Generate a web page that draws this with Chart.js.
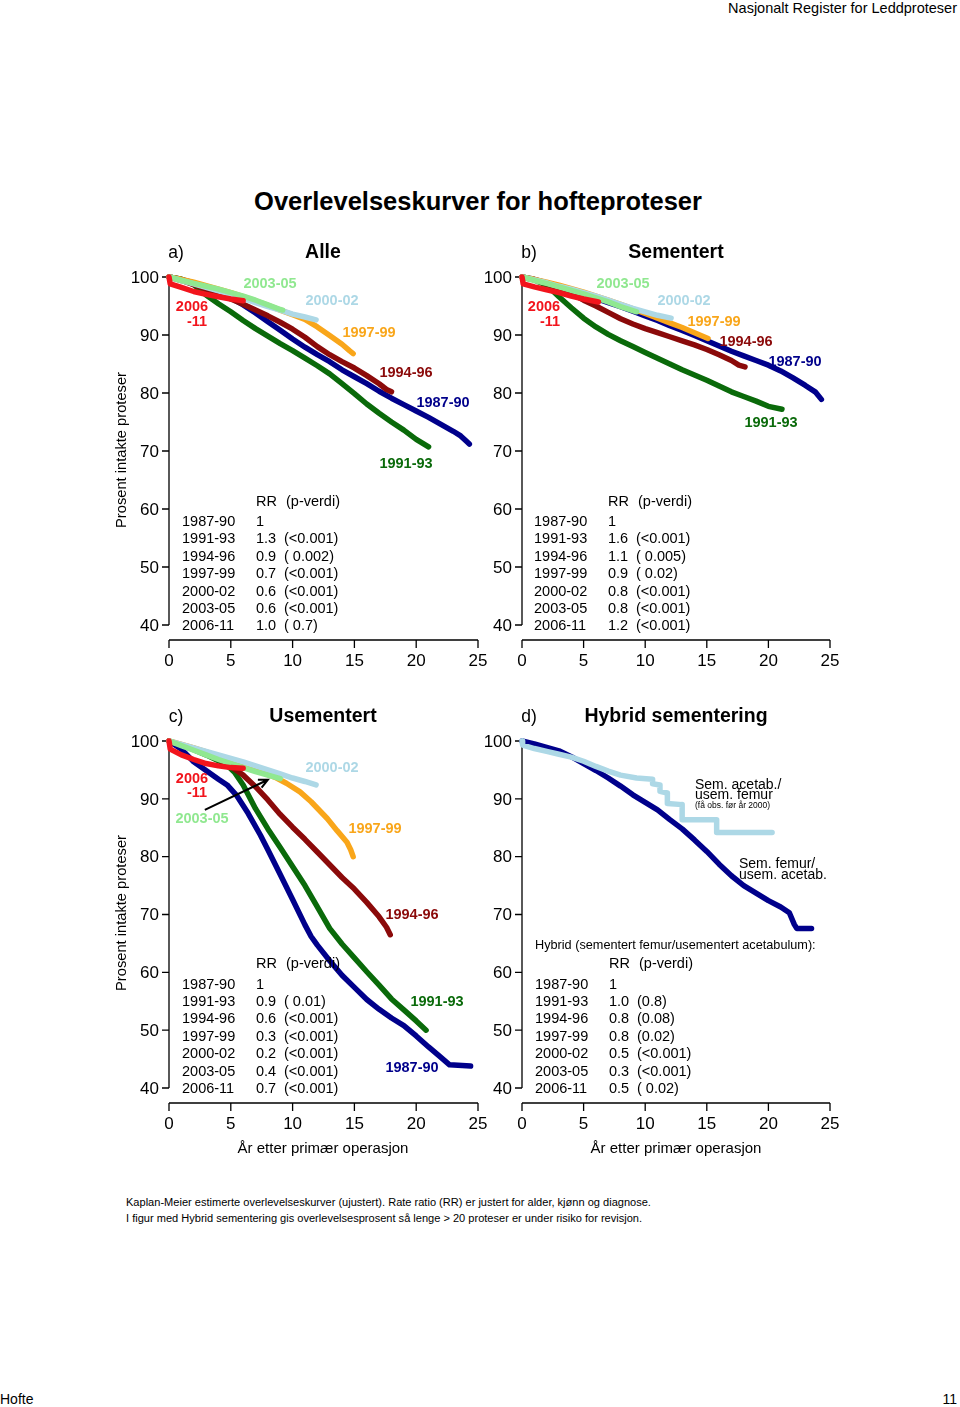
<!DOCTYPE html>
<html>
<head>
<meta charset="utf-8">
<script src="https://cdn.jsdelivr.net/npm/chart.js@4.4.1/dist/chart.umd.min.js"></script>
<style>
  body {
    margin: 0;
    width: 960px;
    height: 1407px;
    position: relative;
    overflow: hidden;
    background: #fff;
    color: #000;
    font-family: "Liberation Sans", Arial, Helvetica, sans-serif;
  }
  canvas { position: absolute; }
  .t { position: absolute; white-space: pre; line-height: 1; transform: translateY(-50%); }
  .t.c { transform: translate(-50%, -50%); }
  .t.r { transform: translate(-100%, -50%); }
  .t.rot { transform: translate(-50%, -50%) rotate(-90deg); }
</style>
</head>
<body>
<script>
// Axes
const yTicks = [40, 50, 60, 70, 80, 90, 100];
const xTicks = [0, 5, 10, 15, 20, 25];

// RR tables
const periods = ["1987-90", "1991-93", "1994-96", "1997-99", "2000-02", "2003-05", "2006-11"];
const rrAlle = ["1", "1.3", "0.9", "0.7", "0.6", "0.6", "1.0"];
const pAlle = ["", "(<0.001)", "( 0.002)", "(<0.001)", "(<0.001)", "(<0.001)", "( 0.7)"];
const rrSem = ["1", "1.6", "1.1", "0.9", "0.8", "0.8", "1.2"];
const pSem = ["", "(<0.001)", "( 0.005)", "( 0.02)", "(<0.001)", "(<0.001)", "(<0.001)"];
const rrUsem = ["1", "0.9", "0.6", "0.3", "0.2", "0.4", "0.7"];
const pUsem = ["", "( 0.01)", "(<0.001)", "(<0.001)", "(<0.001)", "(<0.001)", "(<0.001)"];
const rrHyb = ["1", "1.0", "0.8", "0.8", "0.5", "0.3", "0.5"];
const pHyb = ["", "(0.8)", "(0.08)", "(0.02)", "(<0.001)", "(<0.001)", "( 0.02)"];

// a) Alle  [years, percent]
const alle8790 = [[0,100],[1,99.6],[2,99.0],[3,98.3],[4,97.5],[5,96.4],[6,95.2],[7,93.8],[8,92.3],[9,90.8],[10,89.3],[11,87.9],[12,86.6],[13,85.4],[14,84.0],[15,82.8],[16,81.6],[17,80.3],[18,79.1],[19,78.0],[20,76.9],[21,75.8],[22,74.6],[23,73.4],[23.6,72.6],[24,71.8],[24.3,71.2]];
const alle9193 = [[0,100],[1,99.6],[2,98.7],[3,96.9],[4,95.4],[5,94.0],[6,92.5],[7,91.1],[8,89.8],[9,88.5],[10,87.3],[11,86.0],[12,84.7],[13,83.3],[14,81.6],[15,79.9],[16,78.1],[17,76.5],[18,75.0],[19,73.6],[20,72.0],[21,70.7]];
const alle9496 = [[0,100],[1,99.4],[2,98.7],[3,97.9],[4,97.1],[5,96.2],[6,95.3],[7,94.3],[8,93.3],[9,92.2],[10,91.0],[11,89.6],[12,88.0],[13,86.6],[14,85.4],[15,84.3],[16,83.0],[17,81.6],[17.6,80.6],[18,80.2]];
const alle9799 = [[0,100],[1,99.6],[2,99.1],[3,98.5],[4,97.9],[5,97.3],[6,96.6],[7,95.9],[8,95.1],[9,94.3],[10,93.5],[11,92.7],[12,91.4],[13,89.9],[14,88.4],[14.6,87.3],[14.9,86.8]];
const alle0002 = [[0,100],[1,99.4],[2,98.8],[3,98.2],[4,97.6],[5,97.0],[6,96.3],[7,95.6],[8,94.9],[9,94.3],[10,93.6],[11,93.1],[11.9,92.6]];
const alle0305 = [[0,100],[1,99.4],[2,98.9],[3,98.4],[4,97.9],[5,97.3],[6,96.7],[7,96.0],[8,95.2],[9,94.4],[9.2,94.3]];
const alle0611 = [[0,100],[0.1,98.8],[1,98.2],[2,97.5],[3,97.0],[4,96.6],[5,96.2],[6,95.9]];

// b) Sementert
const sem8790 = [[0,100],[1,99.6],[2,99.0],[3,98.3],[4,97.7],[5,97.0],[6,96.3],[7,95.6],[8,94.9],[9,94.1],[10,93.3],[11,92.5],[12,91.6],[13,90.8],[14,89.9],[15,89.0],[16,88.1],[17,87.2],[18,86.4],[19,85.6],[20,84.8],[21,83.8],[22,82.6],[23,81.3],[23.8,80.2],[24.3,78.9]];
const sem9193 = [[0,100],[1,99.5],[2,98.6],[3,96.6],[4,94.7],[5,92.9],[6,91.4],[7,90.1],[8,89.0],[9,88.0],[10,87.0],[11,86.0],[12,85.0],[13,84.0],[14,83.1],[15,82.2],[16,81.2],[17,80.2],[18,79.4],[19,78.6],[20,77.7],[21.1,77.2]];
const sem9496 = [[0,100],[1,99.5],[2,98.9],[3,98.1],[4,97.2],[5,96.0],[6,95.0],[7,93.9],[8,92.8],[9,91.9],[10,91.1],[11,90.4],[12,89.7],[13,89.0],[14,88.3],[15,87.5],[16,86.6],[17,85.6],[17.6,84.8],[18.1,84.5]];
const sem9799 = [[0,100],[1,99.6],[2,99.1],[3,98.6],[4,98.0],[5,97.4],[6,96.7],[7,96.0],[8,95.3],[9,94.5],[10,93.7],[11,92.9],[12,92.1],[13,91.3],[14,90.4],[15.1,89.4]];
const sem0002 = [[0,100],[1,99.5],[2,99.0],[3,98.4],[4,97.9],[5,97.3],[6,96.7],[7,96.0],[8,95.3],[9,94.6],[10,94.0],[11,93.4],[12.1,92.9]];
const sem0305 = [[0,100],[1,99.4],[2,98.9],[3,98.3],[4,97.7],[5,97.1],[6,96.4],[7,95.7],[8,94.9],[9.3,94.0]];
const sem0611 = [[0,100],[0.1,98.8],[1,98.3],[2,97.8],[3,97.3],[4,96.7],[5,96.2],[6.2,95.7]];

// c) Usementert
const usem8790 = [[0,100],[1,98.6],[2,96.4],[3,94.9],[4,93.4],[4.7,92.4],[5.5,90.5],[6.4,87.5],[7.4,83.7],[8,81.2],[9,76.9],[10,72.6],[11,68.2],[11.5,66.2],[12,64.7],[13,62.0],[14,59.5],[15,57.4],[16,55.3],[17,53.6],[18,52.1],[19,50.8],[20,49.0],[21,47.1],[22,45.3],[22.7,44.0],[24.4,43.8]];
const usem9193 = [[0,100],[1,99.3],[2,98.5],[3,97.6],[4,96.6],[4.7,95.8],[5.3,94.6],[6,92.4],[7,88.3],[8,84.8],[9,81.6],[10,78.3],[11,75.0],[12,71.3],[13,67.6],[14,64.9],[15,62.5],[16,60.1],[17,57.8],[18,55.4],[19,53.5],[20,51.6],[20.8,50.0]];
const usem9496 = [[0,100],[1,99.3],[2,98.6],[3,97.8],[4,96.9],[5,95.6],[6,94.1],[7,92.1],[8,89.8],[9,87.3],[10,85.1],[11,83.0],[12,80.8],[13,78.6],[14,76.4],[15,74.4],[16,72.1],[17,69.6],[17.6,67.8],[17.9,66.5]];
const usem9799 = [[0,100],[1,99.4],[2,98.8],[3,98.1],[4,97.4],[5,96.6],[6,95.8],[7,95.0],[8,94.2],[8.7,93.6],[9.5,92.7],[10.6,91.2],[11.5,89.5],[12.8,86.6],[13.6,84.5],[14.4,82.5],[14.7,81.2],[14.9,80.0]];
const usem0002 = [[0,100],[1,99.4],[2,98.8],[3,98.2],[4,97.6],[5,97.0],[6,96.4],[7,95.7],[8,95.0],[9,94.3],[10,93.6],[11,93.0],[11.9,92.4]];
const usem0305 = [[0,100],[1,99.2],[2,98.4],[3,97.6],[4,96.8],[5,96.1],[6,95.4],[7,94.7],[8,94.1],[9,93.5]];
const usem0611 = [[0,100],[0.1,98.6],[1,97.6],[2,96.8],[3,96.1],[4,95.7],[5,95.4],[6,95.3]];

// d) Hybrid sementering
const hybFemur = [[0,100],[1,99.5],[2,98.9],[3,98.3],[4,97.3],[5,96.1],[6,94.9],[7,93.6],[8,92.2],[9,90.7],[10,89.4],[11,88.1],[12,86.4],[13,84.8],[14,82.9],[15,80.9],[16,78.7],[17,76.7],[18,75.0],[19,73.7],[20,72.4],[21,71.3],[21.7,70.3],[22.1,68.3],[22.3,67.6],[23.5,67.6]];
const hybAcetab = [[0,100],[0.05,99.3],[1,98.7],[2,98.2],[3,97.7],[4,97.2],[5,96.5],[6,95.6],[7,94.8],[8,94.1],[9.3,93.6],[10.6,93.4],[10.6,92.6],[11.2,92.4],[11.2,91.3],[11.8,91.0],[11.8,89.2],[13.0,89.0],[13.0,86.4],[15.8,86.4],[15.8,84.2],[20.3,84.2]];

const col = {
  navy: "#00008b",
  green: "#0a6a0a",
  darkred: "#8b0a0a",
  orange: "#f9a61a",
  lightblue: "#add8e6",
  lightgreen: "#90e890",
  red: "#f2141c",
};

const FONT = '"Liberation Sans", Arial, Helvetica, sans-serif';

function addText(txt, x, y, o) {
  o = o || {};
  const d = document.createElement("div");
  d.className = "t " + (o.align || "");
  d.textContent = txt;
  d.style.left = x + "px";
  d.style.top = y + "px";
  d.style.fontSize = (o.size || 14.5) + "px";
  if (o.color) d.style.color = o.color;
  if (o.bold) d.style.fontWeight = "bold";
  document.body.appendChild(d);
  return d;
}

// R-style axes drawn from the chart's own scales
const rAxes = {
  id: "rAxes",
  beforeDatasetsDraw(chart) {
    const ctx = chart.ctx, sx = chart.scales.x, sy = chart.scales.y, a = chart.chartArea;
    ctx.save();
    ctx.strokeStyle = "#000";
    ctx.fillStyle = "#000";
    ctx.lineWidth = 1.3;
    ctx.font = "17px " + FONT;
    // y axis
    const y0 = sy.getPixelForValue(yTicks[0]), y1 = sy.getPixelForValue(yTicks[yTicks.length - 1]);
    ctx.beginPath();
    ctx.moveTo(a.left, y0);
    ctx.lineTo(a.left, y1);
    yTicks.forEach((v) => {
      const py = sy.getPixelForValue(v);
      ctx.moveTo(a.left - 7, py);
      ctx.lineTo(a.left, py);
    });
    ctx.stroke();
    ctx.textAlign = "right";
    ctx.textBaseline = "middle";
    yTicks.forEach((v) => ctx.fillText(String(v), a.left - 10, sy.getPixelForValue(v) + 1));
    // x axis, detached below the plot
    const ax = a.bottom + 15;
    ctx.beginPath();
    ctx.moveTo(sx.getPixelForValue(xTicks[0]), ax);
    ctx.lineTo(sx.getPixelForValue(xTicks[xTicks.length - 1]), ax);
    xTicks.forEach((v) => {
      const px = sx.getPixelForValue(v);
      ctx.moveTo(px, ax);
      ctx.lineTo(px, ax + 8);
    });
    ctx.stroke();
    ctx.textAlign = "center";
    xTicks.forEach((v) => ctx.fillText(String(v), sx.getPixelForValue(v), ax + 21));
    ctx.restore();
  },
  afterDatasetsDraw(chart, args, opts) {
    if (!opts || !opts.arrow) return;
    const ctx = chart.ctx, sx = chart.scales.x, sy = chart.scales.y;
    const [f, t] = opts.arrow;
    const x0 = sx.getPixelForValue(f[0]), y0 = sy.getPixelForValue(f[1]);
    const x1 = sx.getPixelForValue(t[0]), y1 = sy.getPixelForValue(t[1]);
    const ang = Math.atan2(y1 - y0, x1 - x0);
    ctx.save();
    ctx.strokeStyle = "#000";
    ctx.lineWidth = 2;
    ctx.beginPath();
    ctx.moveTo(x0, y0);
    ctx.lineTo(x1, y1);
    ctx.moveTo(x1 - 10 * Math.cos(ang - 0.45), y1 - 10 * Math.sin(ang - 0.45));
    ctx.lineTo(x1, y1);
    ctx.lineTo(x1 - 10 * Math.cos(ang + 0.45), y1 - 10 * Math.sin(ang + 0.45));
    ctx.stroke();
    ctx.restore();
  },
};

const periodSeries = (s) => [
  { data: s[0], color: col.navy },
  { data: s[1], color: col.green },
  { data: s[2], color: col.darkred },
  { data: s[3], color: col.orange },
  { data: s[4], color: col.lightblue },
  { data: s[5], color: col.lightgreen },
  { data: s[6], color: col.red },
];

const panels = [
  {
    left: 169, top: 277, w: 309, h: 348,
    tag: "a)", title: "Alle",
    series: periodSeries([alle8790, alle9193, alle9496, alle9799, alle0002, alle0305, alle0611]),
    labels: [
      ["2003-05", 270, 283, col.lightgreen], ["2000-02", 332, 300, col.lightblue],
      ["1997-99", 369, 332, col.orange], ["1994-96", 406, 372, col.darkred],
      ["1987-90", 443, 402, col.navy], ["1991-93", 406, 463, col.green],
      ["2006", 192, 306, col.red], ["-11", 197, 321, col.red],
    ],
    table: { x: 182, rr: rrAlle, p: pAlle, y0: 521 },
  },
  {
    left: 522, top: 277, w: 308, h: 348,
    tag: "b)", title: "Sementert",
    series: periodSeries([sem8790, sem9193, sem9496, sem9799, sem0002, sem0305, sem0611]),
    labels: [
      ["2003-05", 623, 283, col.lightgreen], ["2000-02", 684, 300, col.lightblue],
      ["1997-99", 714, 321, col.orange], ["1994-96", 746, 341, col.darkred],
      ["1987-90", 795, 361, col.navy], ["1991-93", 771, 422, col.green],
      ["2006", 544, 306, col.red], ["-11", 550, 321, col.red],
    ],
    table: { x: 534, rr: rrSem, p: pSem, y0: 521 },
  },
  {
    left: 169, top: 741, w: 309, h: 347,
    tag: "c)", title: "Usementert",
    series: periodSeries([usem8790, usem9193, usem9496, usem9799, usem0002, usem0305, usem0611]),
    labels: [
      ["2000-02", 332, 767, col.lightblue], ["1997-99", 375, 828, col.orange],
      ["1994-96", 412, 914, col.darkred], ["1991-93", 437, 1001, col.green],
      ["1987-90", 412, 1067, col.navy], ["2006", 192, 778, col.red],
      ["-11", 197, 792, col.red], ["2003-05", 202, 818, col.lightgreen],
    ],
    arrow: [[2.9, 88.1], [8.0, 93.3]],
    table: { x: 182, rr: rrUsem, p: pUsem, y0: 983.5 },
  },
  {
    left: 522, top: 741, w: 308, h: 347,
    tag: "d)", title: "Hybrid sementering",
    series: [
      { data: hybFemur, color: col.navy },
      { data: hybAcetab, color: col.lightblue },
    ],
    labels: [],
    table: { x: 535, rr: rrHyb, p: pHyb, y0: 983.5 },
  },
];

panels.forEach((p) => {
  const cv = document.createElement("canvas");
  cv.width = p.w + 90;
  cv.height = p.h + 110;
  cv.style.left = p.left - 70 + "px";
  cv.style.top = p.top - 40 + "px";
  document.body.appendChild(cv);

  new Chart(cv.getContext("2d"), {
    type: "line",
    data: {
      datasets: p.series
        .map((s) => ({
          data: s.data.map(([x, y]) => ({ x: x, y: y })),
          borderColor: s.color,
          borderWidth: 5.5,
          borderCapStyle: "round",
          borderJoinStyle: "round",
          pointRadius: 0,
          tension: 0,
          fill: false,
          clip: false,
        }))
        .reverse(),
    },
    options: {
      responsive: false,
      animation: false,
      events: [],
      layout: { padding: { left: 70, top: 40, right: 20, bottom: 70 } },
      scales: {
        x: { type: "linear", min: 0, max: 25, display: false },
        y: { type: "linear", min: 40, max: 100, display: false },
      },
      plugins: {
        legend: { display: false },
        tooltip: { enabled: false },
        rAxes: { arrow: p.arrow || null },
      },
    },
    plugins: [rAxes],
  });

  // Panel headings
  addText(p.tag, p.left + 7, p.top - 24, { size: 17.5, align: "c" });
  addText(p.title, p.left + 154, p.top - 25, { size: 19.5, bold: true, align: "c" });

  // Curve labels
  p.labels.forEach(([txt, x, y, c]) => addText(txt, x, y, { size: 14.5, bold: true, color: c, align: "c" }));

  // RR table
  const tb = p.table;
  addText("RR", tb.x + 74, tb.y0 - 20.5, { size: 14.5 });
  addText("(p-verdi)", tb.x + 104, tb.y0 - 20.5, { size: 14.5 });
  periods.forEach((per, i) => {
    const y = tb.y0 + i * 17.4;
    addText(per, tb.x, y, { size: 14.5 });
    addText(tb.rr[i], tb.x + 74, y, { size: 14.5 });
    if (tb.p[i]) addText(tb.p[i], tb.x + 102, y, { size: 14.5 });
  });
});

// Labels in panel d
addText("Sem. acetab./", 695, 784, { size: 14 });
addText("usem. femur", 695, 794, { size: 14 });
addText("(få obs. før år 2000)", 695, 805, { size: 8.5 });
addText("Sem. femur/", 739, 863, { size: 14 });
addText("usem. acetab.", 739, 874, { size: 14 });
addText("Hybrid (sementert femur/usementert acetabulum):", 535, 945, { size: 12.7 });

// Page texts
addText("Nasjonalt Register for Leddproteser", 957, 8, { size: 14.5, align: "r" });
addText("Overlevelseskurver for hofteproteser", 478, 202, { size: 25.5, bold: true, align: "c" });
addText("Prosent intakte proteser", 121, 450, { size: 14.7, align: "rot" });
addText("Prosent intakte proteser", 121, 913, { size: 14.7, align: "rot" });
addText("År etter primær operasjon", 323, 1147, { size: 15, align: "c" });
addText("År etter primær operasjon", 676, 1147, { size: 15, align: "c" });
addText("Kaplan-Meier estimerte overlevelseskurver (ujustert). Rate ratio (RR) er justert for alder, kjønn og diagnose.", 126, 1203, { size: 11.05 });
addText("I figur med Hybrid sementering gis overlevelsesprosent så lenge > 20 proteser er under risiko for revisjon.", 126, 1219, { size: 11.05 });
addText("Hofte", 0, 1399, { size: 14 });
addText("11", 957, 1399, { size: 14, align: "r" });
</script>
</body>
</html>
